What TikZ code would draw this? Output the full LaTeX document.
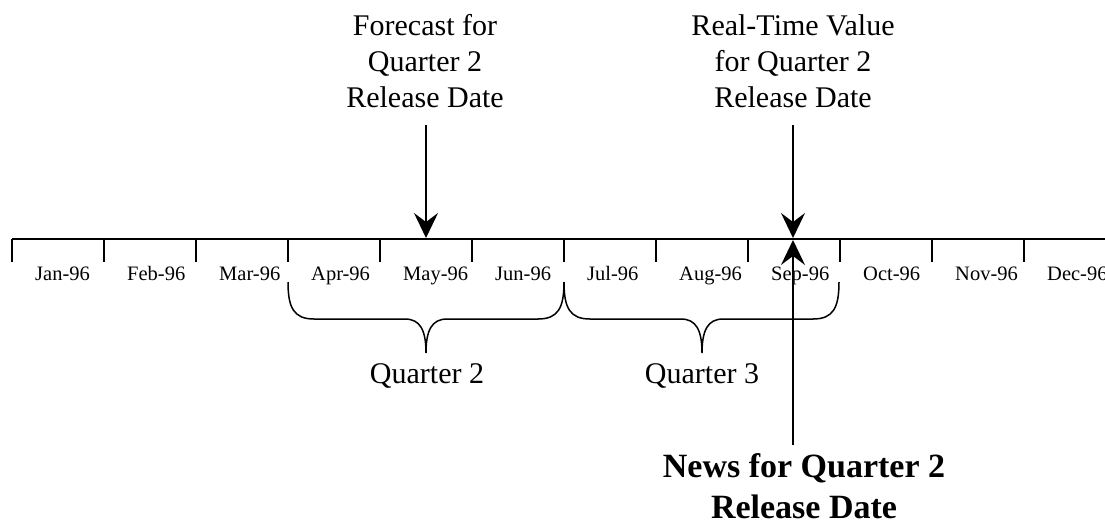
\documentclass[tikz,border=0pt]{standalone}
\usepackage{fontspec}
\setmainfont{Liberation Serif}
\usetikzlibrary{arrows.meta}
\begin{document}
\begin{tikzpicture}[x=1pt,y=1pt,
  axis/.style={line width=1.7pt},
  arr/.style={line width=1.7pt,-{Stealth[length=25pt,width=24pt,inset=9pt]}},
  brace/.style={line width=1.5pt},
  month/.style={font=\fontsize{20.5}{24}\selectfont,inner sep=0pt,anchor=base west},
  toplab/.style={font=\fontsize{30}{36}\selectfont,inner sep=0pt,align=center,anchor=base},
  qlab/.style={font=\fontsize{30}{36}\selectfont,inner sep=0pt,anchor=base},
  newslab/.style={font=\bfseries\fontsize{34}{41}\selectfont,inner sep=0pt,align=center,anchor=base}]
\useasboundingbox (0,0) rectangle (1105,-523);
% axis
\coordinate (axL) at (12,-239);
\coordinate (axR) at (1105,-239);
\draw[axis] (axL) -- (axR);
\foreach \x in {12,104,196,288,380,472,564,656,748,840,932,1024}
  \draw[axis] (\x,-239) -- (\x,-262);
% month labels
\foreach \m [count=\i] in {Jan-96,Feb-96,Mar-96,Apr-96,May-96,Jun-96,Jul-96,Aug-96,Sep-96,Oct-96,Nov-96,Dec-96}
  \node[month] (m\i) at ({12+92*(\i-1)+23},-280) {\m};
% braces
\draw[brace] (288,-282) .. controls (288,-308) and (294,-319) .. (314,-319) -- (405,-319)
  .. controls (420,-319) and (426,-330) .. (426,-353)
  .. controls (426,-330) and (432,-319) .. (447,-319) -- (538,-319)
  .. controls (558,-319) and (564,-308) .. (564,-282);
\draw[brace] (564,-282) .. controls (564,-308) and (570,-319) .. (590,-319) -- (681,-319)
  .. controls (696,-319) and (702,-330) .. (702,-353)
  .. controls (702,-330) and (708,-319) .. (723,-319) -- (813,-319)
  .. controls (833,-319) and (839,-308) .. (839,-282);
\node[qlab] (q2) at (427,-383) {Quarter 2};
\node[qlab] (q3) at (702,-383) {Quarter 3};
% top labels
\node[toplab] (fc) at (425,-107) {Forecast for\\Quarter 2\\Release Date};
\node[toplab] (rt) at (793,-107) {Real-Time Value\\for Quarter 2\\Release Date};
\coordinate (fcs) at (426,-125);
\coordinate (fct) at (426,-238);
\coordinate (rts) at (793,-125);
\coordinate (rtt) at (793,-238);
\draw[arr] (fcs) -- (fct);
\draw[arr] (rts) -- (rtt);
% news
\node[newslab] (nw) at (804,-518) {News for Quarter 2\\Release Date};
\coordinate (nws) at (793,-445);
\coordinate (nwt) at (793,-240);
\draw[arr] (nws) -- (nwt);
\end{tikzpicture}
\end{document}
